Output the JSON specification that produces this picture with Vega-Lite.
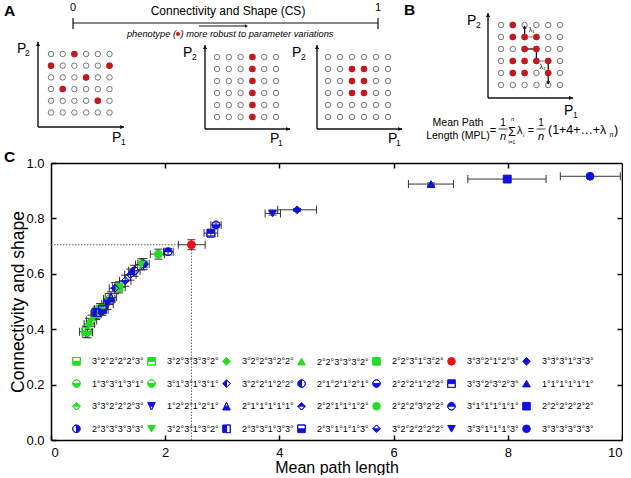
{
"$schema": "https://vega.github.io/schema/vega-lite/v6.json",
"padding": {"left": 3, "top": 0, "right": 0, "bottom": 0},
"autosize": {"type": "pad"},
"background": "white",
"config": {
 "view": {"stroke": null},
 "font": "Liberation Sans",
 "text": {"font": "Liberation Sans", "color": "#000"},
 "axis": {"labelFont": "Liberation Sans", "titleFont": "Liberation Sans", "labelColor": "#000", "titleColor": "#000", "tickColor": "#000", "domainColor": "#000", "labelFontSize": 13, "titleFontSize": 16, "titleFontWeight": "normal", "grid": false, "tickWidth": 1.5, "domainWidth": 1.5},
 "legend": {"labelFont": "Liberation Sans", "labelFontSize": 9, "labelColor": "#000", "symbolSize": 58, "symbolStrokeWidth": 1, "labelOffset": 11, "columnPadding": 1, "rowPadding": 9.6, "padding": 0, "offset": 0}
},
"datasets": {
 "cells": [
  {"c":1,"r":1},{"c":2,"r":1},{"c":3,"r":1},{"c":4,"r":1},{"c":5,"r":1},{"c":6,"r":1},
  {"c":1,"r":2},{"c":2,"r":2},{"c":3,"r":2},{"c":4,"r":2},{"c":5,"r":2},{"c":6,"r":2},
  {"c":1,"r":3},{"c":2,"r":3},{"c":3,"r":3},{"c":4,"r":3},{"c":5,"r":3},{"c":6,"r":3},
  {"c":1,"r":4},{"c":2,"r":4},{"c":3,"r":4},{"c":4,"r":4},{"c":5,"r":4},{"c":6,"r":4},
  {"c":1,"r":5},{"c":2,"r":5},{"c":3,"r":5},{"c":4,"r":5},{"c":5,"r":5},{"c":6,"r":5},
  {"c":1,"r":6},{"c":2,"r":6},{"c":3,"r":6},{"c":4,"r":6},{"c":5,"r":6},{"c":6,"r":6}
 ],
 "on": [
  {"p":"A1","c":3,"r":1},{"p":"A1","c":1,"r":2},{"p":"A1","c":6,"r":2},{"p":"A1","c":4,"r":3},{"p":"A1","c":2,"r":4},{"p":"A1","c":5,"r":5},
  {"p":"A2","c":4,"r":1},{"p":"A2","c":4,"r":2},{"p":"A2","c":4,"r":3},{"p":"A2","c":4,"r":4},{"p":"A2","c":4,"r":5},{"p":"A2","c":4,"r":6},
  {"p":"A3","c":3,"r":2},{"p":"A3","c":4,"r":2},{"p":"A3","c":3,"r":3},{"p":"A3","c":4,"r":3},{"p":"A3","c":3,"r":4},{"p":"A3","c":4,"r":4},
  {"p":"B","c":2,"r":1},{"p":"B","c":2,"r":2},{"p":"B","c":3,"r":2},{"p":"B","c":4,"r":2},{"p":"B","c":3,"r":3},{"p":"B","c":4,"r":3},
  {"p":"B","c":2,"r":4},{"p":"B","c":3,"r":4},{"p":"B","c":4,"r":4},{"p":"B","c":5,"r":4},{"p":"B","c":2,"r":5},{"p":"B","c":3,"r":5},{"p":"B","c":5,"r":5}
 ],
 "paths": [
  {"c":3,"r":2,"c2":3,"r2":1.1,"k":"b"},
  {"c":3,"r":2,"c2":4,"r2":2,"k":"g"},
  {"c":3,"r":3,"c2":4,"r2":3,"k":"b"},
  {"c":4,"r":3,"c2":4,"r2":4,"k":"b"},
  {"c":4,"r":4,"c2":5,"r2":4,"k":"g"},
  {"c":5,"r":4,"c2":5,"r2":5.9,"k":"b"}
 ],
 "pts": [
  {"g":"3°2°2°2°2°3°","x":0.61,"xlo":0.50,"xhi":0.72,"y":0.391,"ylo":0.371,"yhi":0.411},
  {"g":"3°2°3°3°3°2°","x":0.86,"xlo":0.76,"xhi":0.96,"y":0.473,"ylo":0.453,"yhi":0.493},
  {"g":"3°2°2°3°2°2°","x":0.67,"xlo":0.58,"xhi":0.76,"y":0.419,"ylo":0.399,"yhi":0.439},
  {"g":"2°2°3°3°3°2°","x":0.79,"xlo":0.70,"xhi":0.88,"y":0.455,"ylo":0.435,"yhi":0.475},
  {"g":"2°2°3°1°3°2°","x":1.19,"xlo":1.08,"xhi":1.30,"y":0.551,"ylo":0.531,"yhi":0.571},
  {"g":"3°3°2°1°2°3°","x":2.46,"xlo":2.23,"xhi":2.70,"y":0.705,"ylo":0.687,"yhi":0.723},
  {"g":"3°3°3°1°3°3°","x":4.31,"xlo":3.97,"xhi":4.65,"y":0.831,"ylo":0.826,"yhi":0.836},
  {"g":"1°3°3°1°3°1°","x":0.64,"xlo":0.55,"xhi":0.73,"y":0.389,"ylo":0.369,"yhi":0.409},
  {"g":"3°1°3°1°3°1°","x":1.02,"xlo":0.92,"xhi":1.12,"y":0.509,"ylo":0.489,"yhi":0.529},
  {"g":"3°2°2°1°2°2°","x":1.12,"xlo":1.02,"xhi":1.22,"y":0.548,"ylo":0.528,"yhi":0.568},
  {"g":"2°1°2°1°2°1°","x":1.46,"xlo":1.36,"xhi":1.56,"y":0.611,"ylo":0.591,"yhi":0.631},
  {"g":"2°2°2°1°2°2°","x":2.89,"xlo":2.80,"xhi":2.98,"y":0.776,"ylo":0.768,"yhi":0.784},
  {"g":"3°3°2°3°2°3°","x":2.80,"xlo":2.68,"xhi":2.92,"y":0.747,"ylo":0.737,"yhi":0.757},
  {"g":"1°1°1°1°1°1°","x":6.655,"xlo":6.26,"xhi":7.05,"y":0.924,"ylo":0.920,"yhi":0.928},
  {"g":"3°3°2°2°2°3°","x":0.71,"xlo":0.62,"xhi":0.80,"y":0.431,"ylo":0.411,"yhi":0.451},
  {"g":"1°2°2°1°2°1°","x":0.99,"xlo":0.89,"xhi":1.09,"y":0.491,"ylo":0.471,"yhi":0.511},
  {"g":"2°1°1°1°1°1°","x":1.05,"xlo":0.95,"xhi":1.15,"y":0.515,"ylo":0.495,"yhi":0.535},
  {"g":"2°2°1°1°1°2°","x":1.39,"xlo":1.29,"xhi":1.49,"y":0.597,"ylo":0.577,"yhi":0.617},
  {"g":"2°2°2°3°2°2°","x":1.88,"xlo":1.74,"xhi":1.99,"y":0.671,"ylo":0.653,"yhi":0.689},
  {"g":"3°1°1°1°1°1°","x":2.05,"xlo":1.97,"xhi":2.14,"y":0.680,"ylo":0.668,"yhi":0.692},
  {"g":"2°2°2°2°2°2°","x":7.99,"xlo":7.30,"xhi":8.67,"y":0.942,"ylo":0.938,"yhi":0.946},
  {"g":"2°3°3°3°3°3°","x":1.62,"xlo":1.52,"xhi":1.72,"y":0.635,"ylo":0.615,"yhi":0.655},
  {"g":"3°2°3°1°3°2°","x":1.58,"xlo":1.48,"xhi":1.68,"y":0.634,"ylo":0.614,"yhi":0.654},
  {"g":"2°3°3°1°3°3°","x":0.80,"xlo":0.71,"xhi":0.89,"y":0.460,"ylo":0.440,"yhi":0.480},
  {"g":"2°3°1°1°1°3°","x":0.90,"xlo":0.80,"xhi":1.00,"y":0.470,"ylo":0.450,"yhi":0.490},
  {"g":"3°2°2°2°2°2°","x":1.30,"xlo":1.20,"xhi":1.40,"y":0.575,"ylo":0.555,"yhi":0.595},
  {"g":"3°3°1°1°1°3°","x":3.88,"xlo":3.75,"xhi":4.02,"y":0.818,"ylo":0.812,"yhi":0.824},
  {"g":"3°3°3°3°3°3°","x":9.44,"xlo":8.92,"xhi":9.97,"y":0.952,"ylo":0.948,"yhi":0.956}
 ]
},
"spacing": 163,
"bounds": "flush",
"vconcat": [
 {"spacing": 0, "bounds": "flush", "hconcat": [
  {"width": 154, "height": 150, "layer": [
   {"data": {"name": "cells"}, "mark": {"type": "point", "shape": "circle", "size": 30, "color": "#555", "strokeWidth": 0.8, "opacity": 1},
    "encoding": {"x": {"field": "c", "type": "quantitative", "scale": {"domain": [1, 14.162], "nice": false, "zero": false}, "axis": null},
                 "y": {"field": "r", "type": "quantitative", "scale": {"domain": [-3.615, 9.205], "nice": false, "zero": false, "reverse": true}, "axis": null}}},
   {"data": {"name": "on"}, "transform": [{"filter": "datum.p === 'A1'"}], "mark": {"type": "point", "shape": "circle", "size": 42, "filled": true, "color": "#c8161d", "opacity": 1},
    "encoding": {"x": {"field": "c", "type": "quantitative", "axis": null}, "y": {"field": "r", "type": "quantitative", "axis": null}}},
   {"data": {"values": [{}]}, "mark": {"type": "rule", "color": "#111", "strokeWidth": 1.4}, "encoding": {"x": {"datum": -0.111, "type": "quantitative", "axis": null}, "y": {"datum": 7.24, "type": "quantitative", "axis": null}, "y2": {"datum": -0.026}}},
   {"data": {"values": [{}]}, "mark": {"type": "rule", "color": "#111", "strokeWidth": 1.4}, "encoding": {"x": {"datum": -0.111, "type": "quantitative", "axis": null}, "x2": {"datum": 7.24}, "y": {"datum": 7.24, "type": "quantitative", "axis": null}}},
   {"data": {"values": [{}]}, "mark": {"type": "point", "shape": "triangle-up", "size": 18, "filled": true, "color": "#111", "opacity": 1}, "encoding": {"x": {"datum": -0.111, "type": "quantitative", "axis": null}, "y": {"datum": 0.15, "type": "quantitative", "axis": null}}},
   {"data": {"values": [{}]}, "mark": {"type": "point", "shape": "triangle-right", "size": 18, "filled": true, "color": "#111", "opacity": 1}, "encoding": {"x": {"datum": 7.07, "type": "quantitative", "axis": null}, "y": {"datum": 7.24, "type": "quantitative", "axis": null}}},
   {"data": {"values": [{}]}, "mark": {"type": "text", "text": "A", "fontSize": 15.5, "fontWeight": "bold", "align": "left", "baseline": "alphabetic"}, "encoding": {"x": {"datum": -3.02, "type": "quantitative", "axis": null}, "y": {"datum": -2.25, "type": "quantitative", "axis": null}}},
   {"data": {"values": [{}]}, "mark": {"type": "text", "text": "P", "fontSize": 14, "align": "left", "baseline": "alphabetic"}, "encoding": {"x": {"datum": -1.906, "type": "quantitative", "axis": null}, "y": {"datum": 0.915, "type": "quantitative", "axis": null}}},
   {"data": {"values": [{}]}, "mark": {"type": "text", "text": "2", "fontSize": 8.5, "align": "left", "baseline": "alphabetic"}, "encoding": {"x": {"datum": -1.22, "type": "quantitative", "axis": null}, "y": {"datum": 1.17, "type": "quantitative", "axis": null}}},
   {"data": {"values": [{}]}, "mark": {"type": "text", "text": "P", "fontSize": 14, "align": "left", "baseline": "alphabetic"}, "encoding": {"x": {"datum": 6.21, "type": "quantitative", "axis": null}, "y": {"datum": 8.52, "type": "quantitative", "axis": null}}},
   {"data": {"values": [{}]}, "mark": {"type": "text", "text": "1", "fontSize": 8.5, "align": "left", "baseline": "alphabetic"}, "encoding": {"x": {"datum": 6.98, "type": "quantitative", "axis": null}, "y": {"datum": 8.78, "type": "quantitative", "axis": null}}},
   {"data": {"values": [{}]}, "mark": {"type": "rule", "color": "#111", "strokeWidth": 1.2}, "encoding": {"x": {"datum": 2.88, "type": "quantitative", "axis": null}, "x2": {"datum": 28.949}, "y": {"datum": -1.65, "type": "quantitative", "axis": null}}},
   {"data": {"values": [{}]}, "mark": {"type": "rule", "color": "#111", "strokeWidth": 1.2}, "encoding": {"x": {"datum": 2.88, "type": "quantitative", "axis": null}, "y": {"datum": -2.077, "type": "quantitative", "axis": null}, "y2": {"datum": -1.137}}},
   {"data": {"values": [{}]}, "mark": {"type": "rule", "color": "#111", "strokeWidth": 1.2}, "encoding": {"x": {"datum": 28.949, "type": "quantitative", "axis": null}, "y": {"datum": -2.077, "type": "quantitative", "axis": null}, "y2": {"datum": -1.137}}},
   {"data": {"values": [{}]}, "mark": {"type": "text", "text": "0", "fontSize": 11, "align": "center", "baseline": "alphabetic"}, "encoding": {"x": {"datum": 2.88, "type": "quantitative", "axis": null}, "y": {"datum": -2.675, "type": "quantitative", "axis": null}}},
   {"data": {"values": [{}]}, "mark": {"type": "text", "text": "1", "fontSize": 11, "align": "center", "baseline": "alphabetic"}, "encoding": {"x": {"datum": 28.949, "type": "quantitative", "axis": null}, "y": {"datum": -2.675, "type": "quantitative", "axis": null}}},
   {"data": {"values": [{}]}, "mark": {"type": "text", "text": "Connectivity and Shape (CS)", "fontSize": 12, "align": "center", "baseline": "alphabetic"}, "encoding": {"x": {"datum": 16.128, "type": "quantitative", "axis": null}, "y": {"datum": -2.333, "type": "quantitative", "axis": null}}},
   {"data": {"values": [{}]}, "mark": {"type": "rule", "color": "#111", "strokeWidth": 1}, "encoding": {"x": {"datum": 13.65, "type": "quantitative", "axis": null}, "x2": {"datum": 17.7}, "y": {"datum": -1.393, "type": "quantitative", "axis": null}}},
   {"data": {"values": [{}]}, "mark": {"type": "point", "shape": "triangle-right", "size": 12, "filled": true, "color": "#111", "opacity": 1}, "encoding": {"x": {"datum": 17.7, "type": "quantitative", "axis": null}, "y": {"datum": -1.393, "type": "quantitative", "axis": null}}},
   {"data": {"values": [{}]}, "mark": {"type": "text", "text": "phenotype (", "fontSize": 9.3, "fontStyle": "italic", "align": "right", "baseline": "alphabetic"}, "encoding": {"x": {"datum": 11.684, "type": "quantitative", "axis": null}, "y": {"datum": -0.453, "type": "quantitative", "axis": null}}},
   {"data": {"values": [{}]}, "mark": {"type": "point", "shape": "circle", "size": 16, "filled": true, "color": "#d81010", "opacity": 1}, "encoding": {"x": {"datum": 11.855, "type": "quantitative", "axis": null}, "y": {"datum": -0.709, "type": "quantitative", "axis": null}}},
   {"data": {"values": [{}]}, "mark": {"type": "text", "text": ") more robust to parameter variations", "fontSize": 9.3, "fontStyle": "italic", "align": "left", "baseline": "alphabetic"}, "encoding": {"x": {"datum": 12.068, "type": "quantitative", "axis": null}, "y": {"datum": -0.453, "type": "quantitative", "axis": null}}}
  ]},
  {"width": 112, "height": 150, "layer": [
   {"data": {"name": "cells"}, "mark": {"type": "point", "shape": "circle", "size": 30, "color": "#555", "strokeWidth": 0.8, "opacity": 1},
    "encoding": {"x": {"field": "c", "type": "quantitative", "scale": {"domain": [-0.01695, 9.4746], "nice": false, "zero": false}, "axis": null},
                 "y": {"field": "r", "type": "quantitative", "scale": {"domain": [-3.75, 8.75], "nice": false, "zero": false, "reverse": true}, "axis": null}}},
   {"data": {"name": "on"}, "transform": [{"filter": "datum.p === 'A2'"}], "mark": {"type": "point", "shape": "circle", "size": 42, "filled": true, "color": "#c8161d", "opacity": 1},
    "encoding": {"x": {"field": "c", "type": "quantitative", "axis": null}, "y": {"field": "r", "type": "quantitative", "axis": null}}},
   {"data": {"values": [{}]}, "mark": {"type": "rule", "color": "#111", "strokeWidth": 1.4}, "encoding": {"x": {"datum": -0.017, "type": "quantitative", "axis": null}, "y": {"datum": 7.0, "type": "quantitative", "axis": null}, "y2": {"datum": 0.0}}},
   {"data": {"values": [{}]}, "mark": {"type": "rule", "color": "#111", "strokeWidth": 1.4}, "encoding": {"x": {"datum": -0.017, "type": "quantitative", "axis": null}, "x2": {"datum": 7.186}, "y": {"datum": 7.0, "type": "quantitative", "axis": null}}},
   {"data": {"values": [{}]}, "mark": {"type": "point", "shape": "triangle-up", "size": 18, "filled": true, "color": "#111", "opacity": 1}, "encoding": {"x": {"datum": -0.017, "type": "quantitative", "axis": null}, "y": {"datum": 0.17, "type": "quantitative", "axis": null}}},
   {"data": {"values": [{}]}, "mark": {"type": "point", "shape": "triangle-right", "size": 18, "filled": true, "color": "#111", "opacity": 1}, "encoding": {"x": {"datum": 7.02, "type": "quantitative", "axis": null}, "y": {"datum": 7.0, "type": "quantitative", "axis": null}}},
   {"data": {"values": [{}]}, "mark": {"type": "text", "text": "P", "fontSize": 14, "align": "left", "baseline": "alphabetic"}, "encoding": {"x": {"datum": -1.881, "type": "quantitative", "axis": null}, "y": {"datum": 1.04, "type": "quantitative", "axis": null}}},
   {"data": {"values": [{}]}, "mark": {"type": "text", "text": "2", "fontSize": 8.5, "align": "left", "baseline": "alphabetic"}, "encoding": {"x": {"datum": -1.119, "type": "quantitative", "axis": null}, "y": {"datum": 1.29, "type": "quantitative", "axis": null}}},
   {"data": {"values": [{}]}, "mark": {"type": "text", "text": "P", "fontSize": 14, "align": "left", "baseline": "alphabetic"}, "encoding": {"x": {"datum": 5.49, "type": "quantitative", "axis": null}, "y": {"datum": 8.17, "type": "quantitative", "axis": null}}},
   {"data": {"values": [{}]}, "mark": {"type": "text", "text": "1", "fontSize": 8.5, "align": "left", "baseline": "alphabetic"}, "encoding": {"x": {"datum": 6.17, "type": "quantitative", "axis": null}, "y": {"datum": 8.42, "type": "quantitative", "axis": null}}}
  ]},
  {"width": 171, "height": 150, "layer": [
   {"data": {"name": "cells"}, "mark": {"type": "point", "shape": "circle", "size": 30, "color": "#555", "strokeWidth": 0.8, "opacity": 1},
    "encoding": {"x": {"field": "c", "type": "quantitative", "scale": {"domain": [0.0833, 14.333], "nice": false, "zero": false}, "axis": null},
                 "y": {"field": "r", "type": "quantitative", "scale": {"domain": [-3.75, 8.75], "nice": false, "zero": false, "reverse": true}, "axis": null}}},
   {"data": {"name": "on"}, "transform": [{"filter": "datum.p === 'A3'"}], "mark": {"type": "point", "shape": "circle", "size": 42, "filled": true, "color": "#c8161d", "opacity": 1},
    "encoding": {"x": {"field": "c", "type": "quantitative", "axis": null}, "y": {"field": "r", "type": "quantitative", "axis": null}}},
   {"data": {"values": [{}]}, "mark": {"type": "rule", "color": "#111", "strokeWidth": 1.4}, "encoding": {"x": {"datum": 0.0833, "type": "quantitative", "axis": null}, "y": {"datum": 7.0, "type": "quantitative", "axis": null}, "y2": {"datum": 0.0}}},
   {"data": {"values": [{}]}, "mark": {"type": "rule", "color": "#111", "strokeWidth": 1.4}, "encoding": {"x": {"datum": 0.0833, "type": "quantitative", "axis": null}, "x2": {"datum": 7.167}, "y": {"datum": 7.0, "type": "quantitative", "axis": null}}},
   {"data": {"values": [{}]}, "mark": {"type": "point", "shape": "triangle-up", "size": 18, "filled": true, "color": "#111", "opacity": 1}, "encoding": {"x": {"datum": 0.0833, "type": "quantitative", "axis": null}, "y": {"datum": 0.17, "type": "quantitative", "axis": null}}},
   {"data": {"values": [{}]}, "mark": {"type": "point", "shape": "triangle-right", "size": 18, "filled": true, "color": "#111", "opacity": 1}, "encoding": {"x": {"datum": 7.0, "type": "quantitative", "axis": null}, "y": {"datum": 7.0, "type": "quantitative", "axis": null}}},
   {"data": {"values": [{}]}, "mark": {"type": "text", "text": "P", "fontSize": 14, "align": "left", "baseline": "alphabetic"}, "encoding": {"x": {"datum": -2.0, "type": "quantitative", "axis": null}, "y": {"datum": 1.04, "type": "quantitative", "axis": null}}},
   {"data": {"values": [{}]}, "mark": {"type": "text", "text": "2", "fontSize": 8.5, "align": "left", "baseline": "alphabetic"}, "encoding": {"x": {"datum": -1.25, "type": "quantitative", "axis": null}, "y": {"datum": 1.29, "type": "quantitative", "axis": null}}},
   {"data": {"values": [{}]}, "mark": {"type": "text", "text": "P", "fontSize": 14, "align": "left", "baseline": "alphabetic"}, "encoding": {"x": {"datum": 6.0, "type": "quantitative", "axis": null}, "y": {"datum": 8.17, "type": "quantitative", "axis": null}}},
   {"data": {"values": [{}]}, "mark": {"type": "text", "text": "1", "fontSize": 8.5, "align": "left", "baseline": "alphabetic"}, "encoding": {"x": {"datum": 6.67, "type": "quantitative", "axis": null}, "y": {"datum": 8.42, "type": "quantitative", "axis": null}}}
  ]},
  {"width": 134, "height": 150, "layer": [
   {"data": {"name": "cells"}, "mark": {"type": "point", "shape": "circle", "size": 30, "color": "#555", "strokeWidth": 0.8, "opacity": 1},
    "encoding": {"x": {"field": "c", "type": "quantitative", "scale": {"domain": [-0.1017, 11.254], "nice": false, "zero": false}, "axis": null},
                 "y": {"field": "r", "type": "quantitative", "scale": {"domain": [-1.0833, 11.4167], "nice": false, "zero": false, "reverse": true}, "axis": null}}},
   {"data": {"name": "paths"}, "mark": {"type": "rule", "strokeWidth": 1.3},
    "encoding": {"x": {"field": "c", "type": "quantitative", "axis": null}, "x2": {"field": "c2"}, "y": {"field": "r", "type": "quantitative", "axis": null}, "y2": {"field": "r2"},
                 "color": {"field": "k", "type": "nominal", "scale": {"domain": ["b", "g"], "range": ["#111111", "#9a9a9a"]}, "legend": null}}},
   {"data": {"name": "on"}, "transform": [{"filter": "datum.p === 'B'"}], "mark": {"type": "point", "shape": "circle", "size": 42, "filled": true, "color": "#c8161d", "opacity": 1},
    "encoding": {"x": {"field": "c", "type": "quantitative", "axis": null}, "y": {"field": "r", "type": "quantitative", "axis": null}}},
   {"data": {"values": [{}]}, "mark": {"type": "point", "shape": "triangle-up", "size": 14, "filled": true, "color": "#111", "opacity": 1}, "encoding": {"x": {"datum": 3, "type": "quantitative", "axis": null}, "y": {"datum": 1.17, "type": "quantitative", "axis": null}}},
   {"data": {"values": [{}]}, "mark": {"type": "point", "shape": "triangle-down", "size": 14, "filled": true, "color": "#111", "opacity": 1}, "encoding": {"x": {"datum": 5, "type": "quantitative", "axis": null}, "y": {"datum": 5.83, "type": "quantitative", "axis": null}}},
   {"data": {"values": [{}]}, "mark": {"type": "text", "text": "λ₁", "fontSize": 7, "align": "center", "baseline": "middle"}, "encoding": {"x": {"datum": 3.6, "type": "quantitative", "axis": null}, "y": {"datum": 1.45, "type": "quantitative", "axis": null}}},
   {"data": {"values": [{}]}, "mark": {"type": "text", "text": "λ₂", "fontSize": 7, "align": "center", "baseline": "middle"}, "encoding": {"x": {"datum": 4.53, "type": "quantitative", "axis": null}, "y": {"datum": 4.47, "type": "quantitative", "axis": null}}},
   {"data": {"values": [{}]}, "mark": {"type": "rule", "color": "#111", "strokeWidth": 1.4}, "encoding": {"x": {"datum": -0.1017, "type": "quantitative", "axis": null}, "y": {"datum": 7.083, "type": "quantitative", "axis": null}, "y2": {"datum": 0.0}}},
   {"data": {"values": [{}]}, "mark": {"type": "rule", "color": "#111", "strokeWidth": 1.4}, "encoding": {"x": {"datum": -0.1017, "type": "quantitative", "axis": null}, "x2": {"datum": 7.1}, "y": {"datum": 7.083, "type": "quantitative", "axis": null}}},
   {"data": {"values": [{}]}, "mark": {"type": "point", "shape": "triangle-up", "size": 18, "filled": true, "color": "#111", "opacity": 1}, "encoding": {"x": {"datum": -0.1017, "type": "quantitative", "axis": null}, "y": {"datum": 0.17, "type": "quantitative", "axis": null}}},
   {"data": {"values": [{}]}, "mark": {"type": "point", "shape": "triangle-right", "size": 18, "filled": true, "color": "#111", "opacity": 1}, "encoding": {"x": {"datum": 6.93, "type": "quantitative", "axis": null}, "y": {"datum": 7.083, "type": "quantitative", "axis": null}}},
   {"data": {"values": [{}]}, "mark": {"type": "text", "text": "B", "fontSize": 15.5, "fontWeight": "bold", "align": "left", "baseline": "alphabetic"}, "encoding": {"x": {"datum": -7.22, "type": "quantitative", "axis": null}, "y": {"datum": 0.1667, "type": "quantitative", "axis": null}}},
   {"data": {"values": [{}]}, "mark": {"type": "text", "text": "P", "fontSize": 14, "align": "left", "baseline": "alphabetic"}, "encoding": {"x": {"datum": -1.88, "type": "quantitative", "axis": null}, "y": {"datum": 1.0, "type": "quantitative", "axis": null}}},
   {"data": {"values": [{}]}, "mark": {"type": "text", "text": "2", "fontSize": 8.5, "align": "left", "baseline": "alphabetic"}, "encoding": {"x": {"datum": -1.12, "type": "quantitative", "axis": null}, "y": {"datum": 1.25, "type": "quantitative", "axis": null}}},
   {"data": {"values": [{}]}, "mark": {"type": "text", "text": "P", "fontSize": 14, "align": "left", "baseline": "alphabetic"}, "encoding": {"x": {"datum": 6.34, "type": "quantitative", "axis": null}, "y": {"datum": 8.5, "type": "quantitative", "axis": null}}},
   {"data": {"values": [{}]}, "mark": {"type": "text", "text": "1", "fontSize": 8.5, "align": "left", "baseline": "alphabetic"}, "encoding": {"x": {"datum": 7.1, "type": "quantitative", "axis": null}, "y": {"datum": 8.75, "type": "quantitative", "axis": null}}},
   {"data": {"values": [{}]}, "mark": {"type": "text", "text": ["Mean Path", "Length (MPL)"], "fontSize": 10.5, "lineHeight": 12.5, "align": "center", "baseline": "alphabetic"}, "encoding": {"x": {"datum": -2.644, "type": "quantitative", "axis": null}, "y": {"datum": 9.417, "type": "quantitative", "axis": null}}},
   {"data": {"values": [{}]}, "mark": {"type": "text", "text": "=", "fontSize": 11, "align": "center", "baseline": "alphabetic"}, "encoding": {"x": {"datum": 0.322, "type": "quantitative", "axis": null}, "y": {"datum": 10.083, "type": "quantitative", "axis": null}}},
   {"data": {"values": [{}]}, "mark": {"type": "text", "text": "1", "fontSize": 10, "align": "center", "baseline": "alphabetic"}, "encoding": {"x": {"datum": 1.169, "type": "quantitative", "axis": null}, "y": {"datum": 9.417, "type": "quantitative", "axis": null}}},
   {"data": {"values": [{}]}, "mark": {"type": "rule", "color": "#111", "strokeWidth": 0.8}, "encoding": {"x": {"datum": 0.79, "type": "quantitative", "axis": null}, "x2": {"datum": 1.55}, "y": {"datum": 9.667, "type": "quantitative", "axis": null}}},
   {"data": {"values": [{}]}, "mark": {"type": "text", "text": "n", "fontSize": 11, "fontStyle": "italic", "align": "center", "baseline": "alphabetic"}, "encoding": {"x": {"datum": 1.169, "type": "quantitative", "axis": null}, "y": {"datum": 10.583, "type": "quantitative", "axis": null}}},
   {"data": {"values": [{}]}, "mark": {"type": "text", "text": "Σ", "fontSize": 13, "align": "center", "baseline": "alphabetic"}, "encoding": {"x": {"datum": 1.932, "type": "quantitative", "axis": null}, "y": {"datum": 10.25, "type": "quantitative", "axis": null}}},
   {"data": {"values": [{}]}, "mark": {"type": "text", "text": "n", "fontSize": 5.5, "fontStyle": "italic", "align": "center", "baseline": "alphabetic"}, "encoding": {"x": {"datum": 1.975, "type": "quantitative", "axis": null}, "y": {"datum": 9.0, "type": "quantitative", "axis": null}}},
   {"data": {"values": [{}]}, "mark": {"type": "text", "text": "i=1", "fontSize": 5, "align": "center", "baseline": "alphabetic"}, "encoding": {"x": {"datum": 1.932, "type": "quantitative", "axis": null}, "y": {"datum": 10.958, "type": "quantitative", "axis": null}}},
   {"data": {"values": [{}]}, "mark": {"type": "text", "text": "λ", "fontSize": 11, "align": "left", "baseline": "alphabetic"}, "encoding": {"x": {"datum": 2.356, "type": "quantitative", "axis": null}, "y": {"datum": 10.083, "type": "quantitative", "axis": null}}},
   {"data": {"values": [{}]}, "mark": {"type": "text", "text": "i", "fontSize": 6, "fontStyle": "italic", "align": "left", "baseline": "alphabetic"}, "encoding": {"x": {"datum": 2.864, "type": "quantitative", "axis": null}, "y": {"datum": 10.292, "type": "quantitative", "axis": null}}},
   {"data": {"values": [{}]}, "mark": {"type": "text", "text": "=", "fontSize": 11, "align": "center", "baseline": "alphabetic"}, "encoding": {"x": {"datum": 3.542, "type": "quantitative", "axis": null}, "y": {"datum": 10.083, "type": "quantitative", "axis": null}}},
   {"data": {"values": [{}]}, "mark": {"type": "text", "text": "1", "fontSize": 10, "align": "center", "baseline": "alphabetic"}, "encoding": {"x": {"datum": 4.39, "type": "quantitative", "axis": null}, "y": {"datum": 9.417, "type": "quantitative", "axis": null}}},
   {"data": {"values": [{}]}, "mark": {"type": "rule", "color": "#111", "strokeWidth": 0.8}, "encoding": {"x": {"datum": 4.01, "type": "quantitative", "axis": null}, "x2": {"datum": 4.77}, "y": {"datum": 9.667, "type": "quantitative", "axis": null}}},
   {"data": {"values": [{}]}, "mark": {"type": "text", "text": "n", "fontSize": 11, "fontStyle": "italic", "align": "center", "baseline": "alphabetic"}, "encoding": {"x": {"datum": 4.39, "type": "quantitative", "axis": null}, "y": {"datum": 10.583, "type": "quantitative", "axis": null}}},
   {"data": {"values": [{}]}, "mark": {"type": "text", "text": "(1+4+…+λ", "fontSize": 12.4, "align": "left", "baseline": "alphabetic"}, "encoding": {"x": {"datum": 4.983, "type": "quantitative", "axis": null}, "y": {"datum": 10.083, "type": "quantitative", "axis": null}}},
   {"data": {"values": [{}]}, "mark": {"type": "text", "text": "n", "fontSize": 7, "fontStyle": "italic", "align": "left", "baseline": "alphabetic"}, "encoding": {"x": {"datum": 10.195, "type": "quantitative", "axis": null}, "y": {"datum": 10.292, "type": "quantitative", "axis": null}}},
   {"data": {"values": [{}]}, "mark": {"type": "text", "text": ")", "fontSize": 12.4, "align": "left", "baseline": "alphabetic"}, "encoding": {"x": {"datum": 10.576, "type": "quantitative", "axis": null}, "y": {"datum": 10.083, "type": "quantitative", "axis": null}}}
  ]}
 ]},
 {"width": 571, "height": 277,
  "data": {"name": "pts"},
  "resolve": {"axis": {"x": "independent", "y": "independent"}},
  "layer": [
   {"mark": {"type": "rule", "color": "#333", "strokeWidth": 1},
    "encoding": {
     "x": {"field": "xlo", "type": "quantitative", "scale": {"domain": [0, 10], "nice": false, "zero": false}, "title": "Mean path length", "axis": {"orient": "bottom", "values": [0, 2, 4, 6, 8, 10], "format": "d", "tickSize": -5, "labelPadding": 11, "titlePadding": 0}},
     "x2": {"field": "xhi"},
     "y": {"field": "y", "type": "quantitative", "scale": {"domain": [0, 1], "nice": false, "zero": false}, "title": "Connectivity and shape", "axis": {"orient": "left", "values": [0, 0.2, 0.4, 0.6, 0.8, 1], "format": ".1f", "tickSize": -5, "labelPadding": 12, "titlePadding": -1.5, "titleFontSize": 17.5}}}},
   {"data": {"values": [{}]}, "mark": {"type": "rule", "strokeDash": [1.5, 1.5], "color": "#666", "strokeWidth": 1},
    "encoding": {"x": {"datum": 0, "type": "quantitative", "axis": {"orient": "top", "labels": false, "title": null, "tickSize": -5, "values": [2, 4, 6, 8]}}, "x2": {"datum": 2.46},
                 "y": {"datum": 0.705, "type": "quantitative", "axis": {"orient": "right", "labels": false, "title": null, "tickSize": -5, "values": [0.2, 0.4, 0.6, 0.8]}}}},
   {"data": {"values": [{}]}, "mark": {"type": "rule", "strokeDash": [1.5, 1.5], "color": "#666", "strokeWidth": 1},
    "encoding": {"x": {"datum": 2.46, "type": "quantitative", "axis": null}, "y": {"datum": 0, "type": "quantitative", "axis": null}, "y2": {"datum": 0.705}}},
   {"mark": {"type": "tick", "orient": "vertical", "size": 8, "thickness": 1, "color": "#333", "opacity": 1},
    "encoding": {"x": {"field": "xlo", "type": "quantitative", "axis": null}, "y": {"field": "y", "type": "quantitative", "axis": null}}},
   {"mark": {"type": "tick", "orient": "vertical", "size": 8, "thickness": 1, "color": "#333", "opacity": 1},
    "encoding": {"x": {"field": "xhi", "type": "quantitative", "axis": null}, "y": {"field": "y", "type": "quantitative", "axis": null}}},
   {"mark": {"type": "rule", "color": "#333", "strokeWidth": 1},
    "encoding": {"x": {"field": "x", "type": "quantitative", "axis": null}, "y": {"field": "ylo", "type": "quantitative", "axis": null}, "y2": {"field": "yhi"}}},
   {"mark": {"type": "tick", "orient": "horizontal", "size": 8, "thickness": 1, "color": "#333", "opacity": 1},
    "encoding": {"x": {"field": "x", "type": "quantitative", "axis": null}, "y": {"field": "ylo", "type": "quantitative", "axis": null}}},
   {"mark": {"type": "tick", "orient": "horizontal", "size": 8, "thickness": 1, "color": "#333", "opacity": 1},
    "encoding": {"x": {"field": "x", "type": "quantitative", "axis": null}, "y": {"field": "yhi", "type": "quantitative", "axis": null}}},
   {"mark": {"type": "point", "filled": true, "size": 62, "strokeWidth": 1, "opacity": 1},
    "encoding": {
     "x": {"field": "x", "type": "quantitative", "axis": null},
     "y": {"field": "y", "type": "quantitative", "axis": null},
     "shape": {"field": "g", "type": "nominal",
       "scale": {"domain": ["3°2°2°2°2°3°","1°3°3°1°3°1°","3°3°2°2°2°3°","2°3°3°3°3°3°","3°2°3°3°3°2°","3°1°3°1°3°1°","1°2°2°1°2°1°","3°2°3°1°3°2°","3°2°2°3°2°2°","3°2°2°1°2°2°","2°1°1°1°1°1°","2°3°3°1°3°3°","2°2°3°3°3°2°","2°1°2°1°2°1°","2°2°1°1°1°2°","2°3°1°1°1°3°","2°2°3°1°3°2°","2°2°2°1°2°2°","2°2°2°3°2°2°","3°2°2°2°2°2°","3°3°2°1°2°3°","3°3°2°3°2°3°","3°1°1°1°1°1°","3°3°1°1°1°3°","3°3°3°1°3°3°","1°1°1°1°1°1°","2°2°2°2°2°2°","3°3°3°3°3°3°"],
                 "range": ["M-1,-1H1V1H-1Z M-1,-1V0H1V-1Z","M-1,0A1,1,0,1,1,1,0A1,1,0,1,1,-1,0Z M1,0A1,1,0,0,0,-1,0Z","M0,-1L1,0L0,1L-1,0Z M-1,0L0,1L1,0Z","M-1,0A1,1,0,1,1,1,0A1,1,0,1,1,-1,0Z M0,-1A1,1,0,0,0,0,1Z",
                           "M-1,-1H1V1H-1Z M-1,0V1H1V0Z","M-1,0A1,1,0,1,1,1,0A1,1,0,1,1,-1,0Z M1,0A1,1,0,0,0,-1,0Z","M-1,-1L1,-1L0,1Z M-0.5,0L0,1L0.5,0Z","triangle-down",
                           "diamond","M0,-1L1,0L0,1L-1,0Z M0,-1L0,1L1,0Z","M0,-1L1,1L-1,1Z M-0.5,0L0.5,0L0,-1Z","M-1,-1H1V1H-1Z M0,-1V1H1V-1Z",
                           "triangle-up","M-1,0A1,1,0,1,1,1,0A1,1,0,1,1,-1,0Z M0,1A1,1,0,0,0,0,-1Z","M0,-1L1,0L0,1L-1,0Z M-1,0L0,1L1,0Z","M-1,-1H1V1H-1Z M-1,-1V0H1V-1Z",
                           "square","M-1,0A1,1,0,1,1,1,0A1,1,0,1,1,-1,0Z M1,0A1,1,0,0,0,-1,0Z","circle","M0,-1L1,0L0,1L-1,0Z M1,0L0,-1L-1,0Z",
                           "circle","M-1,-1H1V1H-1Z M-1,0V1H1V0Z","M-1,0A1,1,0,1,1,1,0A1,1,0,1,1,-1,0Z M-1,0A1,1,0,0,0,1,0Z","triangle-down",
                           "diamond","triangle-up","square","circle"]},
       "legend": {"title": null, "orient": "none", "legendX": 21, "legendY": 356.5, "columns": 7}},
     "fill": {"field": "g", "type": "nominal",
       "scale": {"domain": ["3°2°2°2°2°3°","1°3°3°1°3°1°","3°3°2°2°2°3°","2°3°3°3°3°3°","3°2°3°3°3°2°","3°1°3°1°3°1°","1°2°2°1°2°1°","3°2°3°1°3°2°","3°2°2°3°2°2°","3°2°2°1°2°2°","2°1°1°1°1°1°","2°3°3°1°3°3°","2°2°3°3°3°2°","2°1°2°1°2°1°","2°2°1°1°1°2°","2°3°1°1°1°3°","2°2°3°1°3°2°","2°2°2°1°2°2°","2°2°2°3°2°2°","3°2°2°2°2°2°","3°3°2°1°2°3°","3°3°2°3°2°3°","3°1°1°1°1°1°","3°3°1°1°1°3°","3°3°3°1°3°3°","1°1°1°1°1°1°","2°2°2°2°2°2°","3°3°3°3°3°3°"],
                 "range": ["#22dd22","#22dd22","#22dd22","#1111dd","#22dd22","#22dd22","#1111dd","#22dd22","#22dd22","#1111dd","#1111dd","#1111dd","#22dd22","#1111dd","#1111dd","#1111dd","#22dd22","#1111dd","#22dd22","#1111dd","#ee1111","#1111dd","#1111dd","#1111dd","#1111dd","#1111dd","#1111dd","#1111dd"]},
       "legend": {"title": null, "orient": "none", "legendX": 21, "legendY": 356.5, "columns": 7}},
     "stroke": {"field": "g", "type": "nominal",
       "scale": {"domain": ["3°2°2°2°2°3°","1°3°3°1°3°1°","3°3°2°2°2°3°","2°3°3°3°3°3°","3°2°3°3°3°2°","3°1°3°1°3°1°","1°2°2°1°2°1°","3°2°3°1°3°2°","3°2°2°3°2°2°","3°2°2°1°2°2°","2°1°1°1°1°1°","2°3°3°1°3°3°","2°2°3°3°3°2°","2°1°2°1°2°1°","2°2°1°1°1°2°","2°3°1°1°1°3°","2°2°3°1°3°2°","2°2°2°1°2°2°","2°2°2°3°2°2°","3°2°2°2°2°2°","3°3°2°1°2°3°","3°3°2°3°2°3°","3°1°1°1°1°1°","3°3°1°1°1°3°","3°3°3°1°3°3°","1°1°1°1°1°1°","2°2°2°2°2°2°","3°3°3°3°3°3°"],
                 "range": ["#22dd22","#22dd22","#22dd22","#1111dd","#22dd22","#22dd22","#1111dd","#22dd22","#22dd22","#1111dd","#1111dd","#1111dd","#22dd22","#1111dd","#1111dd","#1111dd","#22dd22","#1111dd","#22dd22","#1111dd","#ee1111","#1111dd","#1111dd","#1111dd","#1111dd","#1111dd","#1111dd","#1111dd"]},
       "legend": {"title": null, "orient": "none", "legendX": 21, "legendY": 356.5, "columns": 7}}}},
   {"data": {"values": [{}]}, "mark": {"type": "text", "text": "C", "fontSize": 15.5, "fontWeight": "bold", "align": "left", "baseline": "alphabetic"},
    "encoding": {"x": {"datum": -0.823, "type": "quantitative", "axis": null}, "y": {"datum": 1.004, "type": "quantitative", "axis": null}}}
  ]}
]
}
